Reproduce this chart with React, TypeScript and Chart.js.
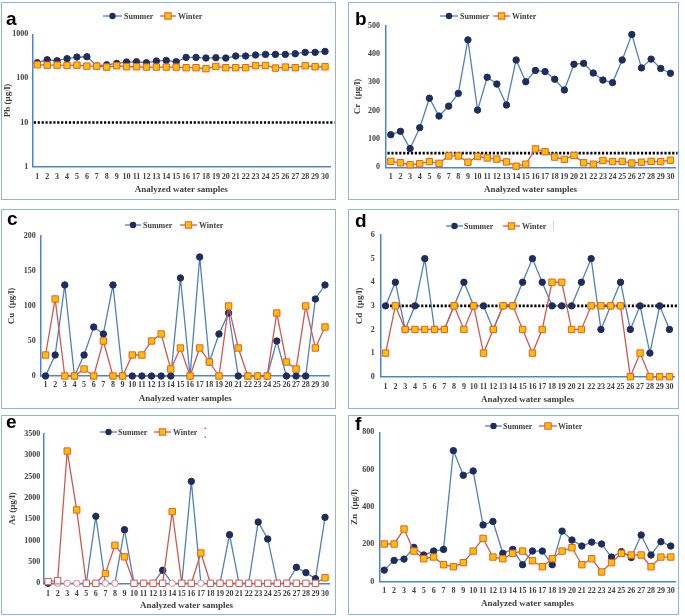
import React, { useEffect, useRef } from 'react';
import { Chart, registerables } from 'chart.js';

Chart.register(...registerables);

// ---------------- data ----------------
const samples = ['1', '2', '3', '4', '5', '6', '7', '8', '9', '10', '11', '12', '13', '14', '15', '16', '17', '18', '19', '20', '21', '22', '23', '24', '25', '26', '27', '28', '29', '30'];

const pbSummer = [227, 265, 252, 280, 305, 310, 192, 204, 219, 235, 239, 227, 248, 256, 239, 300, 300, 290, 295, 290, 322, 322, 339, 350, 350, 350, 363, 390, 390, 410];
const pbWinter = [204, 200, 200, 197, 200, 190, 190, 181, 194, 184, 184, 181, 181, 181, 181, 175, 175, 166, 187, 175, 175, 175, 194, 197, 172, 181, 175, 194, 184, 184];
const pbTicks = [1, 10, 100, 1000];
const pbLimit = 10;

const crSummer = [115, 127, 66, 140, 244, 181, 216, 261, 450, 202, 318, 294, 220, 379, 302, 342, 338, 311, 273, 364, 367, 333, 308, 299, 379, 469, 351, 382, 349, 332];
const crWinter = [21, 16, 9, 13, 20, 14, 40, 40, 18, 38, 33, 29, 19, 4, 11, 65, 55, 36, 28, 42, 16, 11, 24, 20, 21, 15, 18, 21, 20, 25];
const crLimit = 50;

const cuSummer = [0, 30, 130, 0, 30, 70, 60, 130, 0, 0, 0, 0, 0, 0, 140, 0, 170, 20, 60, 90, 0, 0, 0, 0, 50, 0, 0, 0, 110, 130];
const cuWinter = [30, 110, 0, 0, 10, 0, 50, 0, 0, 30, 30, 50, 60, 10, 40, 0, 40, 20, 0, 100, 40, 0, 0, 0, 90, 20, 10, 100, 40, 70];

const cdSummer = [3, 4, 2, 3, 5, 2, 2, 3, 4, 3, 3, 2, 3, 3, 4, 5, 4, 3, 3, 3, 4, 5, 2, 3, 4, 2, 3, 1, 3, 2];
const cdWinter = [1, 3, 2, 2, 2, 2, 2, 3, 2, 3, 1, 2, 3, 3, 2, 1, 2, 4, 4, 2, 2, 3, 3, 3, 3, 0, 1, 0, 0, 0];
const cdLimit = 3;

const asSummer = [0, 0, 0, 0, 0, 1570, 0, 0, 1258, 0, 0, 0, 305, 0, 0, 2390, 0, 0, 0, 1140, 0, 0, 1437, 1039, 0, 0, 375, 250, 109, 1547];
const asWinter = [40, 60, 3100, 1720, 0, 0, 230, 890, 620, 0, 0, 0, 0, 1680, 0, 0, 710, 0, 0, 0, 0, 0, 0, 0, 0, 0, 0, 0, 0, 130];

const znSummer = [62, 114, 121, 184, 143, 164, 173, 702, 570, 593, 304, 323, 152, 173, 91, 164, 164, 91, 271, 223, 191, 212, 202, 132, 161, 129, 250, 143, 214, 191];
const znWinter = [202, 202, 282, 164, 123, 132, 91, 80, 102, 164, 232, 132, 123, 152, 164, 112, 80, 123, 164, 182, 91, 123, 52, 102, 152, 143, 143, 80, 132, 132];

const seriesNames = ['Summer', 'Winter'];
const xTitle = 'Analyzed water samples';

// ---------------- styles ----------------
const SERIF = '"Liberation Serif", "Times New Roman", serif';
const SANS = '"Liberation Sans", Arial, sans-serif';
const TEXT = '#404040';
const AXIS = '#4a86cf';
const BLUE = '#4f81bd';
const NAVY = '#1f2d5e';
const RED = '#cc5a52';
const SQFILL = '#ffc000';
const SQEDGE = '#e0602d';
const HOLLOW_C = '#e88080';

type Entry = { x1: number; x2: number; tx: number };
type Panel = {
  letter: string;
  left: number; top: number; width: number; height: number;
  area: { left: number; top: number; right: number; bottom: number };
  yTitle: string; yTitleX: number; yGap: number; xGap: number; xTitleY: number;
  letterPos: [number, number];
  legendY: number; leg: [Entry, Entry];
  summer: number[]; winter: number[];
  yType: 'linear' | 'logarithmic'; yMin: number; yMax: number; step?: number; logTicks?: number[];
  limit?: number; hollow?: boolean; stray?: 'line' | 'dots';
};

const panels: Panel[] = [
  {
    letter: 'a', left: 1, top: 2, width: 335, height: 198,
    area: { left: 31.3, top: 32.3, right: 329, bottom: 164.7 },
    yTitle: 'Pb (µg/l)', yTitleX: 7, yGap: 4, xGap: 5.5, xTitleY: 188,
    letterPos: [5, 23], legendY: 14,
    leg: [{ x1: 102, x2: 121, tx: 123 }, { x1: 159, x2: 175, tx: 177 }],
    summer: pbSummer, winter: pbWinter, yType: 'logarithmic', yMin: 1, yMax: 1000, logTicks: pbTicks, limit: pbLimit,
  },
  {
    letter: 'b', left: 348, top: 2, width: 331, height: 198,
    area: { left: 38, top: 23.7, right: 330, bottom: 165.3 },
    yTitle: 'Cr  (µg/l)', yTitleX: 10, yGap: 6, xGap: 4.6, xTitleY: 188,
    letterPos: [7, 23], legendY: 14,
    leg: [{ x1: 92, x2: 110, tx: 112 }, { x1: 145, x2: 162, tx: 164 }],
    summer: crSummer, winter: crWinter, yType: 'linear', yMin: 0, yMax: 500, step: 100, limit: crLimit,
  },
  {
    letter: 'c', left: 1, top: 209, width: 335, height: 200,
    area: { left: 39.7, top: 27, right: 328.8, bottom: 167 },
    yTitle: 'Cu  (µg/l)', yTitleX: 11, yGap: 5, xGap: 4.2, xTitleY: 190,
    letterPos: [6, 16], legendY: 16,
    leg: [{ x1: 124, x2: 140, tx: 142 }, { x1: 179, x2: 196, tx: 198 }],
    summer: cuSummer, winter: cuWinter, yType: 'linear', yMin: 0, yMax: 200, step: 50,
  },
  {
    letter: 'd', left: 348, top: 209, width: 331, height: 200,
    area: { left: 32.7, top: 26, right: 329, bottom: 167.7 },
    yTitle: 'Cd  (µg/l)', yTitleX: 12, yGap: 6, xGap: 5.5, xTitleY: 191,
    letterPos: [7, 18], legendY: 17,
    leg: [{ x1: 98, x2: 115, tx: 116 }, { x1: 155, x2: 172, tx: 174 }],
    summer: cdSummer, winter: cdWinter, yType: 'linear', yMin: 0, yMax: 6, step: 1, limit: cdLimit, stray: 'line',
  },
  {
    letter: 'e', left: 1, top: 415, width: 335, height: 200,
    area: { left: 42.3, top: 19, right: 328.8, bottom: 168.3 },
    yTitle: 'As (µg/l)', yTitleX: 12, yGap: 3, xGap: 5.9, xTitleY: 191,
    letterPos: [5, 13], legendY: 17,
    leg: [{ x1: 99, x2: 116, tx: 117 }, { x1: 153, x2: 170, tx: 172 }],
    summer: asSummer, winter: asWinter, yType: 'linear', yMin: 0, yMax: 3500, step: 500, hollow: true, stray: 'dots',
  },
  {
    letter: 'f', left: 348, top: 415, width: 331, height: 200,
    area: { left: 31.3, top: 17.3, right: 329.3, bottom: 166.7 },
    yTitle: 'Zn  (µg/l)', yTitleX: 7, yGap: 5, xGap: 4.2, xTitleY: 189,
    letterPos: [7, 15], legendY: 11,
    leg: [{ x1: 137, x2: 154, tx: 155 }, { x1: 191, x2: 209, tx: 210 }],
    summer: znSummer, winter: znWinter, yType: 'linear', yMin: 0, yMax: 800, step: 200,
  },
];

function drawCircle(ctx: CanvasRenderingContext2D, x: number, y: number) {
  ctx.beginPath();
  ctx.arc(x, y, 3.2, 0, Math.PI * 2);
  ctx.fillStyle = NAVY;
  ctx.fill();
}
function drawSquare(ctx: CanvasRenderingContext2D, x: number, y: number) {
  const h = 3.2;
  ctx.fillStyle = SQFILL;
  ctx.fillRect(x - h, y - h, 2 * h, 2 * h);
  ctx.strokeStyle = SQEDGE;
  ctx.lineWidth = 1;
  ctx.strokeRect(x - h, y - h, 2 * h, 2 * h);
}

function ChartPanel({ cfg }: { cfg: Panel }) {
  const ref = useRef<HTMLCanvasElement>(null);
  useEffect(() => {
    const canvas = ref.current;
    if (!canvas) return;
    const { area } = cfg;
    const tickFont = { family: SERIF, size: 8, weight: 'bold' as const };
    const titleFont = { family: SERIF, size: 9, weight: 'bold' as const, lineHeight: 1.2 };

    const summerBg = cfg.summer.map((v, i) => (cfg.hollow && v === 0 && i > 0 ? '#ffffff' : NAVY));
    const summerBd = cfg.summer.map((v, i) => (cfg.hollow && v === 0 && i > 0 ? HOLLOW_C : NAVY));
    const winterBg = cfg.winter.map((v) => (cfg.hollow && v < 100 ? '#ffffff' : SQFILL));
    const winterBd = cfg.winter.map((v) => (cfg.hollow && v < 100 ? RED : SQEDGE));

    const decor = {
      id: 'decor',
      beforeDatasetsDraw(chart: any) {
        if (cfg.limit === undefined) return;
        const ctx = chart.ctx as CanvasRenderingContext2D;
        const y = chart.scales.y.getPixelForValue(cfg.limit);
        ctx.save();
        ctx.strokeStyle = '#000000';
        ctx.lineWidth = 2.6;
        ctx.setLineDash([2.2, 1.7]);
        ctx.beginPath();
        ctx.moveTo(chart.chartArea.left + 1.5, y);
        ctx.lineTo(chart.width - 1.5, y);
        ctx.stroke();
        ctx.restore();
      },
      afterDraw(chart: any) {
        const ctx = chart.ctx as CanvasRenderingContext2D;
        ctx.save();
        // panel letter
        ctx.font = `bold 19px ${SANS}`;
        ctx.fillStyle = '#000000';
        ctx.textBaseline = 'alphabetic';
        ctx.textAlign = 'left';
        ctx.fillText(cfg.letter, cfg.letterPos[0], cfg.letterPos[1]);
        // legend
        const y = cfg.legendY;
        cfg.leg.forEach((e, i) => {
          ctx.strokeStyle = i === 0 ? BLUE : RED;
          ctx.lineWidth = 1.3;
          ctx.beginPath();
          ctx.moveTo(e.x1, y);
          ctx.lineTo(e.x2, y);
          ctx.stroke();
          const mx = (e.x1 + e.x2) / 2;
          if (i === 0) drawCircle(ctx, mx, y);
          else drawSquare(ctx, mx, y);
          ctx.font = `bold 8px ${SERIF}`;
          ctx.fillStyle = TEXT;
          ctx.textBaseline = 'middle';
          ctx.fillText(seriesNames[i], e.tx, y + 0.5);
        });
        if (cfg.stray === 'line') {
          ctx.strokeStyle = '#d0d0d0';
          ctx.lineWidth = 1;
          ctx.beginPath();
          ctx.moveTo(205.5, y - 5);
          ctx.lineTo(205.5, y + 5);
          ctx.stroke();
        } else if (cfg.stray === 'dots') {
          ctx.fillStyle = RED;
          ctx.fillRect(203.5, y - 4.5, 1.5, 1.5);
          ctx.fillStyle = BLUE;
          ctx.fillRect(203.5, y + 4.5, 1.5, 1.5);
        }
        ctx.restore();
      },
    };

    const yScale: any = {
      type: cfg.yType,
      min: cfg.yMin,
      max: cfg.yMax,
      grid: { display: false, drawTicks: false },
      border: { display: true, color: AXIS, width: 1.5 },
      ticks: {
        padding: cfg.yGap,
        color: TEXT,
        font: tickFont,
        callback: (v: any) => String(v),
      },
      title: {
        display: true,
        text: cfg.yTitle,
        color: TEXT,
        font: titleFont,
        padding: { top: cfg.yTitleX - 5.4, bottom: 0 },
      },
      afterFit: (s: any) => {
        s.width = area.left;
      },
    };
    if (cfg.step !== undefined) yScale.ticks.stepSize = cfg.step;
    if (cfg.logTicks) {
      const lt = cfg.logTicks;
      yScale.afterBuildTicks = (s: any) => {
        s.ticks = lt.map((v) => ({ value: v }));
      };
    }

    const chart = new Chart(canvas, {
      type: 'line',
      data: {
        labels: samples,
        datasets: [
          {
            label: seriesNames[0],
            data: cfg.summer,
            order: 2,
            borderColor: BLUE,
            borderWidth: 1.3,
            tension: 0,
            pointStyle: 'circle',
            pointRadius: 3.2,
            pointBorderWidth: 1,
            pointBackgroundColor: summerBg,
            pointBorderColor: summerBd,
            clip: false,
          } as any,
          {
            label: seriesNames[1],
            data: cfg.winter,
            order: 1,
            borderColor: RED,
            borderWidth: 1.3,
            tension: 0,
            pointStyle: 'rect',
            pointRadius: 4.5,
            pointBorderWidth: 1,
            pointBackgroundColor: winterBg,
            pointBorderColor: winterBd,
            clip: false,
          } as any,
        ],
      },
      options: {
        animation: false,
        responsive: true,
        maintainAspectRatio: false,
        events: [],
        layout: {
          autoPadding: false,
          padding: { top: area.top, right: cfg.width - area.right, left: 0, bottom: 0 },
        },
        plugins: {
          legend: { display: false },
          tooltip: { enabled: false },
          title: { display: false },
        },
        scales: {
          x: {
            type: 'category',
            offset: true,
            grid: { display: false, drawTicks: false },
            border: { display: true, color: AXIS, width: 1.5 },
            ticks: {
              autoSkip: false,
              maxRotation: 0,
              minRotation: 0,
              padding: cfg.xGap,
              color: TEXT,
              font: tickFont,
            },
            title: {
              display: true,
              text: xTitle,
              color: TEXT,
              font: titleFont,
              padding: { top: 0, bottom: cfg.height - cfg.xTitleY - 5.4 },
            },
            afterFit: (s: any) => {
              s.height = cfg.height - area.bottom;
            },
          } as any,
          y: yScale,
        },
      } as any,
      plugins: [decor],
    });
    return () => chart.destroy();
  }, [cfg]);

  return (
    <div
      style={{
        position: 'absolute',
        left: cfg.left,
        top: cfg.top,
        width: cfg.width,
        height: cfg.height,
        background: '#ffffff',
      }}
    >
      <canvas ref={ref} />
      <div
        style={{
          position: 'absolute',
          left: 0,
          top: 0,
          right: 0,
          bottom: 0,
          border: '1.5px solid #8eb4e3',
          boxSizing: 'border-box',
          pointerEvents: 'none',
        }}
      />
    </div>
  );
}

export default function App() {
  return (
    <div
      style={{
        position: 'absolute',
        left: 0,
        top: 0,
        width: 685,
        height: 616,
        background: '#ffffff',
        overflow: 'hidden',
      }}
    >
      {panels.map((p) => (
        <ChartPanel key={p.letter} cfg={p} />
      ))}
    </div>
  );
}
